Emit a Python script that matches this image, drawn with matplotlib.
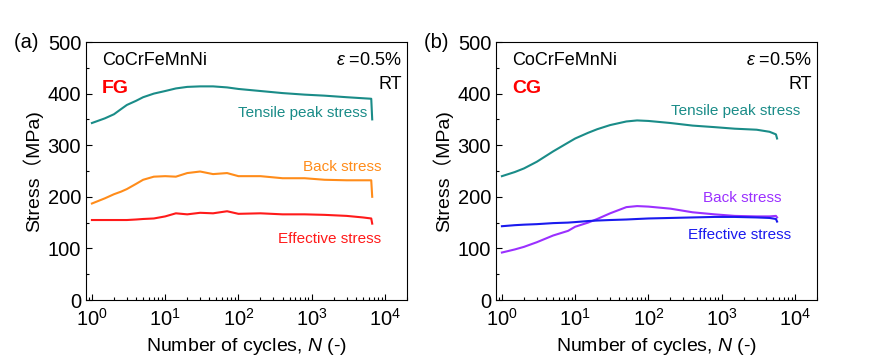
import matplotlib.pyplot as plt
from matplotlib.ticker import LogLocator, MultipleLocator, NullFormatter

plt.rcParams['font.family'] = ['Liberation Sans', 'Noto Sans CJK SC', 'DejaVu Sans']
plt.rcParams['mathtext.fontset'] = 'custom'
plt.rcParams['mathtext.it'] = 'Liberation Sans:italic'

# ---------------- DATA: (a) FG ---------------- #
fg_n = [1, 1.5, 2, 2.5, 3, 4, 5, 7, 10, 14, 20, 30, 45, 70, 100, 200, 400, 800,
        1500, 3000, 5000, 6500, 6700]
fg_tensile = [343, 352, 360, 370, 378, 386, 393, 400, 405, 410, 413, 414, 414, 412,
              409, 405, 401, 398, 396, 393, 391, 390, 350]
fg_back = [187, 197, 205, 210, 215, 225, 233, 239, 240, 239, 246, 249, 244, 246,
           240, 240, 236, 236, 233, 232, 232, 232, 200]
fg_eff = [155, 155, 155, 155, 155, 156, 157, 158, 162, 168, 166, 169, 168, 172,
          167, 168, 166, 166, 165, 163, 160, 158, 148]

# ---------------- DATA: (b) CG ---------------- #
cg_n = [1, 1.5, 2, 3, 5, 8, 10, 15, 20, 30, 50, 70, 100, 200, 400, 800, 1500,
        3000, 4500, 5500, 5700]
cg_tensile = [240, 248, 255, 268, 288, 305, 313, 324, 331, 339, 346, 348, 347, 343,
              338, 335, 332, 330, 326, 321, 313]
cg_back = [92, 98, 103, 112, 125, 134, 142, 150, 157, 168, 180, 182, 181, 177,
           170, 166, 163, 162, 162, 163, 160]
cg_eff = [143, 145, 146, 147, 149, 150, 151, 153, 154, 155, 156, 157, 158, 159,
          160, 161, 161, 160, 159, 157, 152]

teal = '#1a8c88'
orange = '#ff8c1a'
red = '#ff1a1a'
purple = '#9b30ff'
blue = '#1a1aee'

fig = plt.figure(figsize=(8.83, 3.61), dpi=100)
ax1 = fig.add_axes([86 / 883, 1 - 300 / 361, 321 / 883, 258 / 361])
ax2 = fig.add_axes([496 / 883, 1 - 300 / 361, 321 / 883, 258 / 361])


def style(ax, tag, grain):
    ax.set_xscale('log')
    ax.set_xlim(0.83, 2.0e4)
    ax.set_ylim(0, 500)
    ax.yaxis.set_major_locator(MultipleLocator(100))
    ax.yaxis.set_minor_locator(MultipleLocator(50))
    ax.xaxis.set_major_locator(LogLocator(base=10, numticks=10))
    ax.xaxis.set_minor_locator(LogLocator(base=10, subs=range(2, 10), numticks=10))
    ax.xaxis.set_minor_formatter(NullFormatter())
    ax.tick_params(which='both', direction='in', labelsize=14.5, width=0.8)
    ax.tick_params(which='major', length=4)
    ax.tick_params(which='minor', length=2)
    ax.tick_params(axis='x', pad=6)
    for s in ax.spines.values():
        s.set_linewidth(0.8)
    ax.set_xlabel('Number of cycles, $\\it{N}$ (-)', fontsize=14)
    ax.set_ylabel('Stress\uff08MPa)', fontsize=14, labelpad=3)
    ax.text(0.05, 0.93, 'CoCrFeMnNi', transform=ax.transAxes, fontsize=13, va='center')
    ax.text(0.05, 0.82, grain, transform=ax.transAxes, fontsize=14, va='center',
            color='#ff0000', fontweight='bold')
    ax.text(0.985, 0.93, '$\\varepsilon$ =0.5%', transform=ax.transAxes, fontsize=13,
            va='center', ha='right')
    ax.text(0.985, 0.835, 'RT', transform=ax.transAxes, fontsize=13, va='center', ha='right')
    ax.text(-0.225, 1.0, tag, transform=ax.transAxes, fontsize=14.5, va='center')


# ---------------- PANEL (a) ---------------- #
ax1.plot(fg_n, fg_tensile, color=teal, lw=1.5)
ax1.plot(fg_n, fg_back, color=orange, lw=1.5)
ax1.plot(fg_n, fg_eff, color=red, lw=1.5)
style(ax1, '(a) ', 'FG')
ax1.text(5700, 363, 'Tensile peak stress', color=teal, fontsize=11, ha='right', va='center')
ax1.text(8900, 257, 'Back stress', color=orange, fontsize=11, ha='right', va='center')
ax1.text(8900, 118, 'Effective stress', color=red, fontsize=11, ha='right', va='center')

# ---------------- PANEL (b) ---------------- #
ax2.plot(cg_n, cg_tensile, color=teal, lw=1.5)
ax2.plot(cg_n, cg_back, color=purple, lw=1.5)
ax2.plot(cg_n, cg_eff, color=blue, lw=1.5)
style(ax2, '(b) ', 'CG')
ax2.text(11700, 367, 'Tensile peak stress', color=teal, fontsize=11, ha='right', va='center')
ax2.text(6600, 198, 'Back stress', color=purple, fontsize=11, ha='right', va='center')
ax2.text(8900, 126, 'Effective stress', color=blue, fontsize=11, ha='right', va='center')

fig.savefig('out.png', dpi=100)
